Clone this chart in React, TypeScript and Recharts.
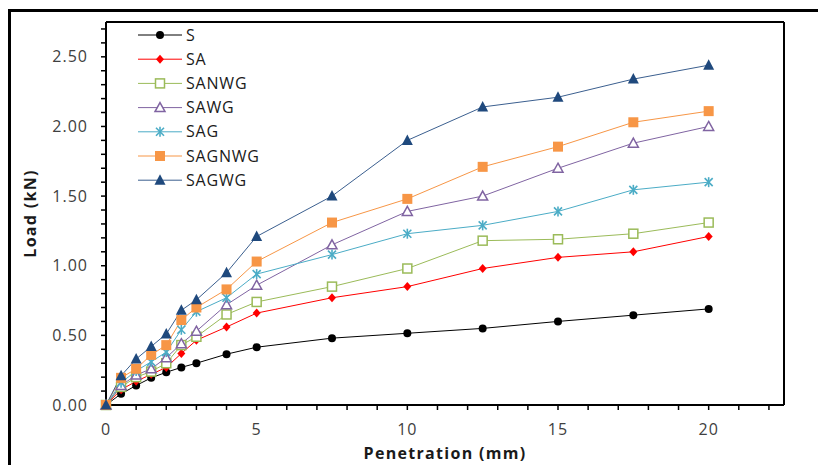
import { LineChart, Line, XAxis, YAxis, Legend, ReferenceLine } from 'recharts';

const PENETRATION = [0, 0.5, 1, 1.5, 2, 2.5, 3, 4, 5, 7.5, 10, 12.5, 15, 17.5, 20];
const S = [0, 0.08, 0.14, 0.195, 0.235, 0.27, 0.3, 0.365, 0.415, 0.48, 0.515, 0.55, 0.6, 0.645, 0.69];
const SA = [0, 0.11, 0.17, 0.22, 0.27, 0.37, 0.465, 0.56, 0.66, 0.77, 0.85, 0.98, 1.06, 1.1, 1.21];
const SANWG = [0, 0.13, 0.2, 0.24, 0.3, 0.43, 0.49, 0.65, 0.74, 0.85, 0.98, 1.18, 1.19, 1.23, 1.31];
const SAWG = [0, 0.14, 0.215, 0.26, 0.34, 0.44, 0.53, 0.72, 0.86, 1.15, 1.39, 1.5, 1.7, 1.88, 2.0];
const SAG = [0, 0.16, 0.245, 0.31, 0.38, 0.54, 0.67, 0.77, 0.94, 1.08, 1.23, 1.29, 1.39, 1.545, 1.6];
const SAGNWG = [0, 0.195, 0.26, 0.36, 0.43, 0.61, 0.7, 0.83, 1.03, 1.31, 1.48, 1.71, 1.855, 2.03, 2.11];
const SAGWG = [0, 0.21, 0.33, 0.42, 0.51, 0.68, 0.755, 0.95, 1.21, 1.5, 1.9, 2.14, 2.21, 2.34, 2.44];

const X_TICKS = [0, 1, 2, 3, 4, 5, 6, 7, 8, 9, 10, 11, 12, 13, 14, 15, 16, 17, 18, 19, 20, 21, 22];
const X_LABELS = [0, 5, 10, 15, 20];
const Y_TICKS = [0, 0.1, 0.2, 0.3, 0.4, 0.5, 0.6, 0.7, 0.8, 0.9, 1.0, 1.1, 1.2, 1.3, 1.4, 1.5, 1.6, 1.7, 1.8, 1.9, 2.0, 2.1, 2.2, 2.3, 2.4, 2.5, 2.6, 2.7];
const Y_LABELS = [0, 0.5, 1.0, 1.5, 2.0, 2.5];

const SERIES = [
  { key: 'S', values: S, color: '#000000', line: '#000000', shape: 'circle' },
  { key: 'SA', values: SA, color: '#ff0000', line: '#ff0000', shape: 'diamond' },
  { key: 'SANWG', values: SANWG, color: '#9bbb59', line: '#9bbb59', shape: 'squareOpen' },
  { key: 'SAWG', values: SAWG, color: '#8064a2', line: '#8064a2', shape: 'triangleOpen' },
  { key: 'SAG', values: SAG, color: '#4bacc6', line: '#4bacc6', shape: 'star' },
  { key: 'SAGNWG', values: SAGNWG, color: '#f79646', line: '#f79646', shape: 'square' },
  { key: 'SAGWG', values: SAGWG, color: '#1f497d', line: '#3b5f8f', shape: 'triangle' },
];

const data = PENETRATION.map((x, i) => {
  const row: Record<string, number> = { x };
  SERIES.forEach((s) => {
    row[s.key] = s.values[i];
  });
  return row;
});

const FONT = '"Open Sans", sans-serif';

function Marker({ shape, color, cx, cy }: { shape: string; color: string; cx: number; cy: number }) {
  switch (shape) {
    case 'circle':
      return <circle cx={cx} cy={cy} r={4} fill={color} />;
    case 'diamond':
      return <polygon points={`${cx},${cy - 4.5} ${cx + 4},${cy} ${cx},${cy + 4.5} ${cx - 4},${cy}`} fill={color} />;
    case 'squareOpen':
      return <rect x={cx - 4.5} y={cy - 4.5} width={9} height={9} fill="#fff" stroke={color} strokeWidth={1.5} />;
    case 'triangleOpen':
      return (
        <polygon
          points={`${cx},${cy - 5} ${cx + 5},${cy + 4} ${cx - 5},${cy + 4}`}
          fill="#fff"
          stroke={color}
          strokeWidth={1.5}
        />
      );
    case 'star':
      return (
        <g stroke={color} strokeWidth={1.6}>
          <line x1={cx - 4} y1={cy - 4} x2={cx + 4} y2={cy + 4} />
          <line x1={cx - 4} y1={cy + 4} x2={cx + 4} y2={cy - 4} />
          <line x1={cx} y1={cy - 5} x2={cx} y2={cy + 5} />
        </g>
      );
    case 'square':
      return <rect x={cx - 5} y={cy - 5} width={10} height={10} fill={color} />;
    default:
      return <polygon points={`${cx},${cy - 6} ${cx + 5.5},${cy + 4.5} ${cx - 5.5},${cy + 4.5}`} fill={color} />;
  }
}

function renderLegend() {
  return (
    <svg width={170} height={170}>
      {SERIES.map((s, i) => {
        const y = 12 + i * 24.2;
        return (
          <g key={s.key}>
            <line x1={0} y1={y} x2={44} y2={y} stroke={s.line} strokeWidth={1} />
            <Marker shape={s.shape} color={s.color} cx={22} cy={y} />
            <text x={48} y={y} dy="0.35em" fontSize={16} letterSpacing={0.8} fontFamily={FONT} fill="#1a1a1a">
              {s.key}
            </text>
          </g>
        );
      })}
    </svg>
  );
}

export default function App() {
  return (
    <div style={{ position: 'absolute', left: 0, top: 0, width: 818, height: 465, background: '#fff' }}>
      <div style={{ position: 'absolute', left: 8, top: 9, right: 0, height: 3, background: '#000' }} />
      <div style={{ position: 'absolute', left: 8, top: 9, bottom: 0, width: 3, background: '#000' }} />
      <div style={{ position: 'absolute', left: 0, top: 0 }}>
        <LineChart width={818} height={465} data={data} margin={{ top: 22, right: 34, left: 0, bottom: 0 }}>
          <XAxis
            type="number"
            dataKey="x"
            domain={[0, 22.5]}
            ticks={X_TICKS}
            interval={0}
            tickFormatter={(v: number) => (X_LABELS.includes(v) ? String(v) : '')}
            axisLine={{ stroke: '#000', strokeWidth: 2 }}
            tickLine={{ stroke: '#000', strokeWidth: 1.5 }}
            tickSize={5}
            tickMargin={14}
            height={60}
            tick={{ fill: '#404040', fontSize: 16, fontFamily: FONT, letterSpacing: 1 }}
            label={{
              value: 'Penetration (mm)',
              position: 'insideBottom',
              offset: 6,
              style: { fontSize: 16, fontWeight: 700, letterSpacing: 1.3, fontFamily: FONT, fill: '#1a1a1a' },
            }}
          />
          <YAxis
            type="number"
            domain={[0, 2.75]}
            ticks={Y_TICKS}
            interval={0}
            tickFormatter={(v: number) => (Y_LABELS.some((l) => Math.abs(l - v) < 1e-6) ? v.toFixed(2) : '')}
            axisLine={{ stroke: '#000', strokeWidth: 2 }}
            tickLine={{ stroke: '#000', strokeWidth: 1.5 }}
            tickSize={5}
            tickMargin={13}
            width={106}
            tick={{ fill: '#404040', fontSize: 16, fontFamily: FONT, letterSpacing: 1 }}
            label={{
              value: 'Load (kN)',
              angle: -90,
              position: 'insideLeft',
              offset: 30,
              style: { textAnchor: 'middle', fontSize: 16, fontWeight: 700, letterSpacing: 1.3, fontFamily: FONT, fill: '#1a1a1a' },
            }}
          />
          <ReferenceLine y={2.75} stroke="#000" strokeWidth={2} />
          <ReferenceLine x={22.5} stroke="#000" strokeWidth={2} />
          <Legend
            layout="vertical"
            align="center"
            verticalAlign="middle"
            content={renderLegend}
            wrapperStyle={{ left: 138, top: 23, width: 170, height: 170 }}
          />
          {SERIES.map((s) => (
            <Line
              key={s.key}
              dataKey={s.key}
              stroke={s.line}
              strokeWidth={1}
              isAnimationActive={false}
              dot={(p: any) => <Marker key={`${s.key}-${p.index}`} shape={s.shape} color={s.color} cx={p.cx} cy={p.cy} />}
              activeDot={false}
            />
          ))}
        </LineChart>
      </div>
    </div>
  );
}
